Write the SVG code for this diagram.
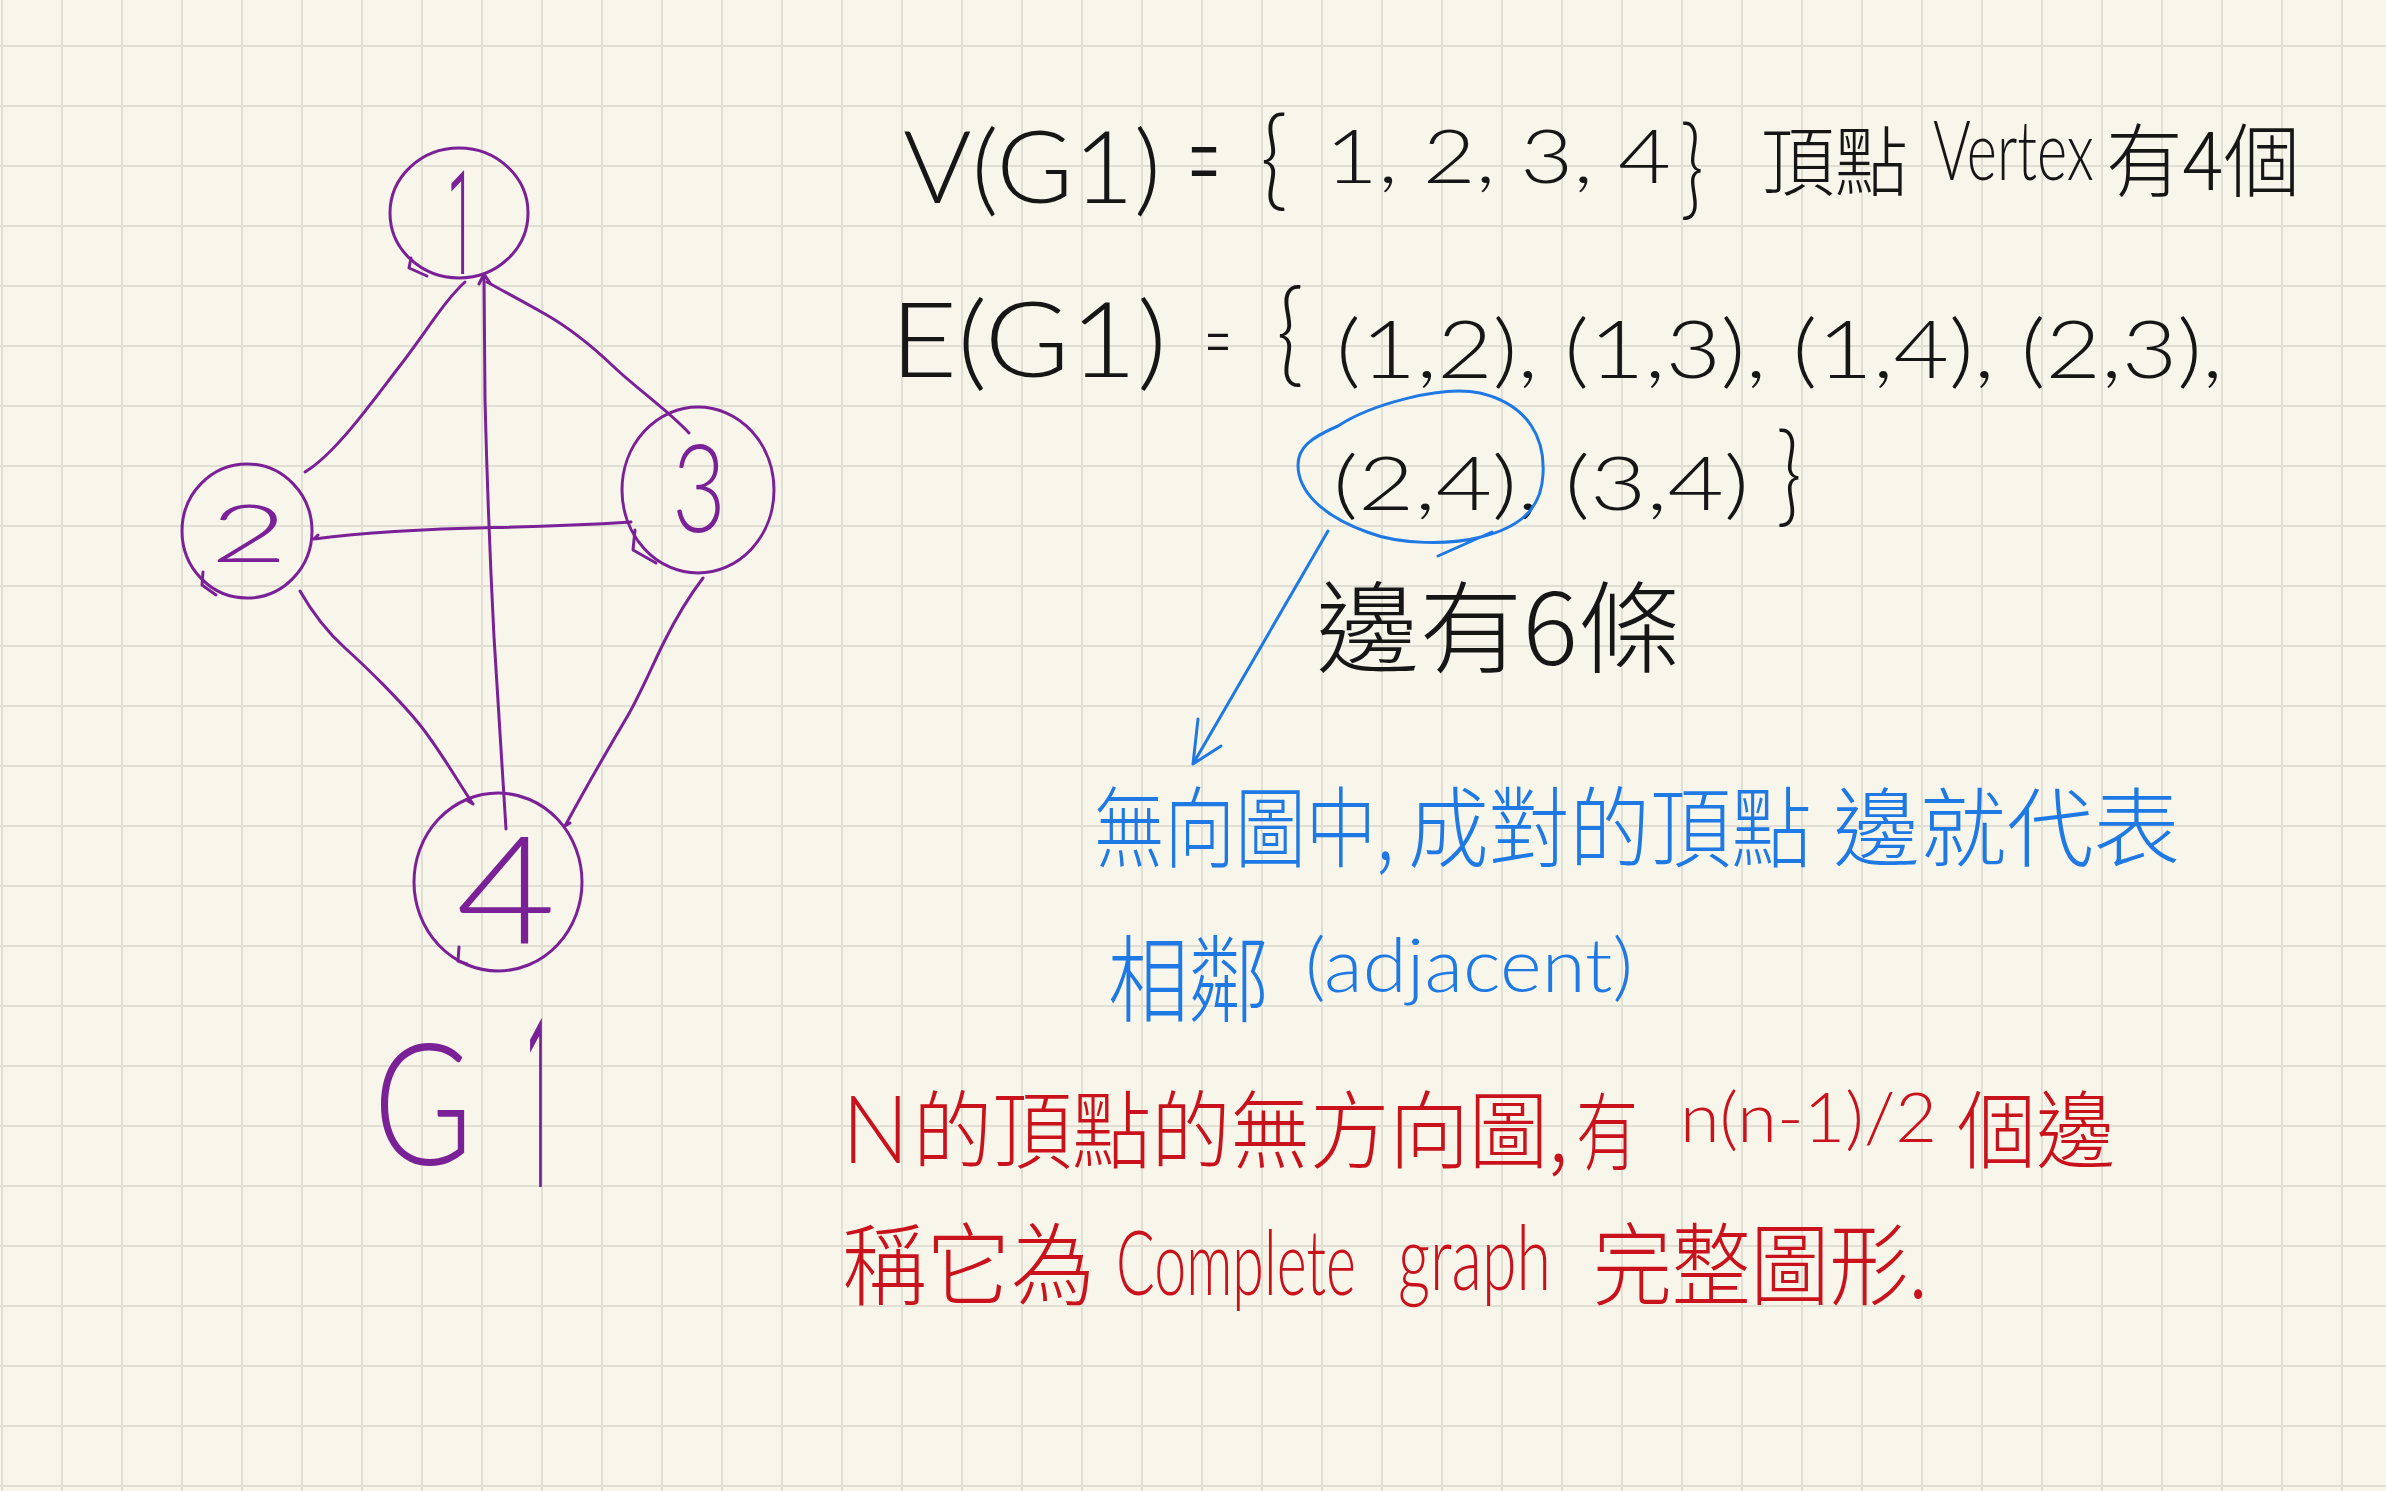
<svg xmlns="http://www.w3.org/2000/svg" width="2386" height="1491" viewBox="0 0 2386 1491">
<style>
.edge{fill:none;stroke:#7b2197;stroke-width:3;stroke-linecap:round;stroke-linejoin:round}
.ring{fill:none;stroke:#7b2197;stroke-width:3;stroke-linecap:round;stroke-linejoin:round}
.bline{fill:none;stroke:#1f79e4;stroke-width:3;stroke-linecap:round;stroke-linejoin:round}
.lat{font-family:Lato,"Liberation Sans",sans-serif;font-weight:300}
.rb{font-family:Roboto,"Open Sans",sans-serif;font-weight:300}
.cjk{font-family:"Noto Sans CJK TC","Noto Sans CJK SC",sans-serif;font-weight:300}
.pu{fill:#7b2197}
.bk{fill:#161616}
.bl{fill:#1f79e4}
.rd{fill:#c9121b}
</style>
<defs>
<pattern id="grid" patternUnits="userSpaceOnUse" x="1" y="45" width="60" height="60">
<rect x="0" y="0" width="60" height="2" fill="#e1ded3"/>
<rect x="0" y="0" width="2" height="60" fill="#e1ded3"/>
</pattern>
</defs>
<rect width="2386" height="1491" fill="#f8f6eb"/>
<rect width="2386" height="1491" fill="url(#grid)"/>

<g id="connectors">
<path class="edge" d="M311,468 C340,447 372,402 399,367 S445,300 465,282 M305,472 L311,468"/>
<path class="edge" d="M484,274 L485,400 Q488,520 494,637 L506,829 M479,284 L484,274 L490,283"/>
<path class="edge" d="M487,282 C505,292 522,301 545,314 S592,346 614,367 S670,412 689,433"/>
<path class="edge" d="M314,539 C360,533 420,529 494,527.5 S600,524 631,522 M314,539 L318,535"/>
<path class="edge" d="M300,591 C312,612 325,630 345,648 S400,700 420,725 S460,785 473,804 M468,801 L473,804"/>
<path class="edge" d="M703,578 C690,595 675,620 664,642 S640,695 627,717 S590,780 565,826 M565,826 L570,823"/>
</g>

<g id="node1">
<ellipse class="ring" cx="459" cy="213" rx="69" ry="65"/>
<path class="ring" d="M411,258 L409,268 L427,276"/>
<text class="rb pu" x="447" y="274" font-size="145" textLength="28" lengthAdjust="spacingAndGlyphs">1</text>
</g>
<g id="node2">
<ellipse class="ring" cx="247" cy="531" rx="65" ry="67"/>
<path class="ring" d="M203,572 L202,585 L216,595"/>
<text class="lat pu" x="210" y="562" font-size="80" textLength="78" lengthAdjust="spacingAndGlyphs">2</text>
</g>
<g id="node3">
<ellipse class="ring" cx="698" cy="490" rx="76" ry="83"/>
<path class="ring" d="M635,530 L633,550 L656,563"/>
<text class="lat pu" x="672" y="532" font-size="122" textLength="54" lengthAdjust="spacingAndGlyphs">3</text>
</g>
<g id="node4">
<ellipse class="ring" cx="498" cy="882" rx="84" ry="89"/>
<path class="ring" d="M459,947 L458,961 L467,964"/>
<text class="lat pu" x="456" y="944" font-size="150" textLength="100" lengthAdjust="spacingAndGlyphs">4</text>
</g>

<g id="graph-label">
<text class="lat pu" x="373" y="1165" font-size="170" textLength="100" lengthAdjust="spacingAndGlyphs">G</text>
<text class="rb pu" x="526" y="1187" font-size="236" textLength="26" lengthAdjust="spacingAndGlyphs">1</text>
</g>

<g id="vertex-set">
<text class="lat bk" x="903" y="203" font-size="100" textLength="258" lengthAdjust="spacingAndGlyphs">V(G1)</text>
<text class="lat bk" transform="translate(1187,212) scale(0.4,1)" font-size="150" textLength="85" lengthAdjust="spacingAndGlyphs">=</text>
<text class="lat bk" x="1260" y="196" font-size="110" textLength="28" lengthAdjust="spacingAndGlyphs">{</text>
<text class="lat bk" x="1325" y="183" font-size="75" textLength="346" lengthAdjust="spacingAndGlyphs">1, 2, 3, 4</text>
<text class="lat bk" x="1680" y="205" font-size="110" textLength="24" lengthAdjust="spacingAndGlyphs">}</text>
<text class="cjk bk" x="1761" y="190" font-size="76" textLength="147" lengthAdjust="spacingAndGlyphs">頂點</text>
<text class="lat bk" transform="translate(1933,180) scale(0.67,1)" font-size="82" textLength="240" lengthAdjust="spacingAndGlyphs">Vertex</text>
<text class="cjk bk" x="2106" y="190" font-size="80" textLength="194" lengthAdjust="spacingAndGlyphs">有4個</text>
</g>

<g id="edge-set">
<text class="lat bk" x="890" y="377" font-size="105" textLength="277" lengthAdjust="spacingAndGlyphs">E(G1)</text>
<text class="lat bk" x="1204" y="371" font-size="85" textLength="28" lengthAdjust="spacingAndGlyphs">=</text>
<text class="lat bk" x="1276" y="372" font-size="115" textLength="28" lengthAdjust="spacingAndGlyphs">{</text>
<text class="lat bk" x="1336" y="378" font-size="80" textLength="887" lengthAdjust="spacingAndGlyphs">(1,2), (1,3), (1,4), (2,3),</text>
<text class="lat bk" x="1333" y="510" font-size="75" textLength="416" lengthAdjust="spacingAndGlyphs">(2,4), (3,4)</text>
<text class="lat bk" x="1776" y="512" font-size="110" textLength="26" lengthAdjust="spacingAndGlyphs">}</text>
<text class="cjk bk" x="1316" y="665" font-size="100" textLength="365" lengthAdjust="spacingAndGlyphs">邊有6條</text>
</g>

<g id="note-blue">
<path class="bline" d="M1338,426 C1370,405 1440,385 1480,393 C1530,405 1545,440 1543,474 C1542,500 1530,525 1481,537 C1450,545 1400,545 1367,532 C1320,515 1298,490 1298,465 C1298,448 1310,438 1338,426 Z M1492,532 L1438,556"/>
<path class="bline" d="M1328,531 L1193,764 M1198,719 L1193,764 L1221,746"/>
<text class="cjk bl" transform="translate(1094,860) scale(0.8,1)" font-size="88" textLength="375" lengthAdjust="spacingAndGlyphs">無向圖中,</text>
<text class="cjk bl" transform="translate(1408,860) scale(0.92,1)" font-size="88" textLength="439" lengthAdjust="spacingAndGlyphs">成對的頂點</text>
<text class="cjk bl" x="1833" y="860" font-size="86" textLength="347" lengthAdjust="spacingAndGlyphs">邊就代表</text>
<text class="cjk bl" transform="translate(1108,1015) scale(0.85,1)" font-size="95" textLength="190" lengthAdjust="spacingAndGlyphs">相鄰</text>
<text class="lat bl" x="1305" y="992" font-size="75" textLength="328" lengthAdjust="spacingAndGlyphs">(adjacent)</text>
</g>

<g id="note-red">
<text class="lat rd" x="842" y="1163" font-size="95" textLength="67" lengthAdjust="spacingAndGlyphs">N</text>
<text class="cjk rd" transform="translate(913,1162) scale(0.92,1)" font-size="85" textLength="712" lengthAdjust="spacingAndGlyphs">的頂點的無方向圖,</text>
<text class="cjk rd" transform="translate(1576,1164) scale(0.73,1)" font-size="85" textLength="85" lengthAdjust="spacingAndGlyphs">有</text>
<text class="lat rd" x="1680" y="1142" font-size="68" textLength="257" lengthAdjust="spacingAndGlyphs">n(n-1)/2</text>
<text class="cjk rd" x="1957" y="1162" font-size="85" textLength="158" lengthAdjust="spacingAndGlyphs">個邊</text>
<text class="cjk rd" x="842" y="1298" font-size="90" textLength="253" lengthAdjust="spacingAndGlyphs">稱它為</text>
<text class="lat rd" transform="translate(1116,1295) scale(0.62,1)" font-size="90" textLength="387" lengthAdjust="spacingAndGlyphs">Complete</text>
<text class="lat rd" transform="translate(1398,1290) scale(0.68,1)" font-size="90" textLength="225" lengthAdjust="spacingAndGlyphs">graph</text>
<text class="cjk rd" transform="translate(1593,1298) scale(0.87,1)" font-size="90" textLength="385" lengthAdjust="spacingAndGlyphs">完整圖形.</text>
</g>
</svg>
